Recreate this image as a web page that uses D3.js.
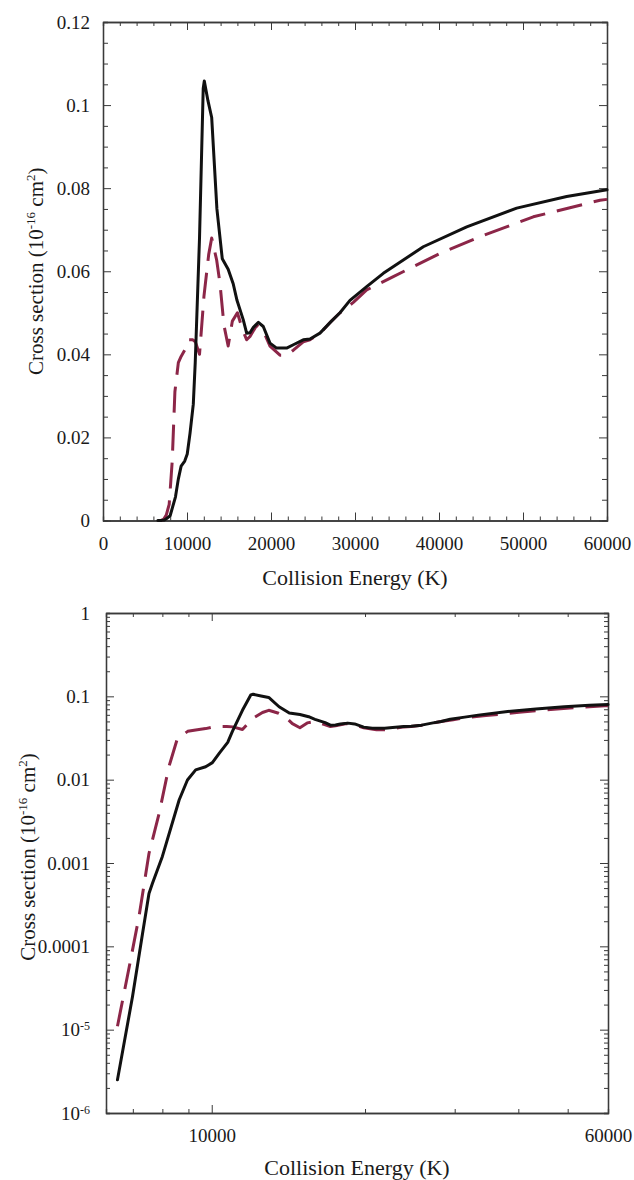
<!DOCTYPE html>
<html>
<head>
<meta charset="utf-8">
<script src="https://cdn.jsdelivr.net/npm/d3@7"></script>
<style>
  html, body { margin: 0; padding: 0; background: #fff; }
  svg { display: block; }
  text { font-family: "Liberation Serif", "Times New Roman", serif; fill: #1a1a1a; }
</style>
</head>
<body>
<svg id="chart" width="634" height="1180"></svg>
<script>
// Cross section vs. collision energy: solid (black) and dashed (maroon) curves
const energySolid = [6530, 6990, 7310, 7530, 7650, 8000, 8630, 8960, 9300, 9730, 10030, 10360, 10750,
  10980, 11490, 11930, 12060, 12500, 12940, 13560, 14200, 14900, 15500, 15950, 16700, 17100, 17500,
  17900, 18500, 19080, 19880, 20670, 21860, 22660, 23840, 24640, 25830, 27200, 28210, 29400, 31390,
  33370, 38130, 43300, 49250, 55200, 60000];
const sigmaSolid = [2.5e-6, 2.5e-5, 1.4e-4, 4.3e-4, 5.7e-4, 1.2e-3, 5.7e-3, 9.9e-3, 0.0131, 0.0143, 0.0160,
  0.021, 0.028, 0.038, 0.068, 0.104, 0.1058, 0.101, 0.097, 0.075, 0.063, 0.0605, 0.057, 0.053, 0.0483,
  0.0451, 0.0452, 0.0465, 0.0477, 0.0467, 0.0427, 0.0415, 0.0415, 0.0423, 0.0435, 0.0437, 0.0451, 0.048,
  0.050, 0.053, 0.0563, 0.0595, 0.0659, 0.0707, 0.0752, 0.078, 0.0796];

const energyDashed = [6530, 6930, 7200, 7530, 7880, 8240, 8560, 8970, 9300, 9730, 10160, 10700, 11000,
  11490, 12020, 12580, 12940, 13530, 13930, 14400, 14900, 15400, 16000, 16600, 17100, 17500, 18300,
  19000, 19880, 21070, 21860, 22660, 23840, 24640, 25830, 27200, 28210, 29800, 31390, 34560, 40120,
  44880, 51230, 59170, 60000];
const sigmaDashed = [1.1e-5, 6.9e-5, 2.3e-4, 1.3e-3, 3.9e-3, 0.0143, 0.031, 0.038, 0.0395, 0.041, 0.0435,
  0.0435, 0.043, 0.040, 0.054, 0.064, 0.068, 0.0627, 0.057, 0.047, 0.042, 0.048, 0.050, 0.046, 0.0435,
  0.0443, 0.047, 0.046, 0.042, 0.0398, 0.0398, 0.041, 0.043, 0.0435, 0.045, 0.048, 0.050, 0.0525,
  0.0555, 0.0587, 0.0643, 0.0683, 0.0731, 0.0771, 0.0773];

// Axis ticks
const linXTicks = [0, 10000, 20000, 30000, 40000, 50000, 60000];
const linYTicks = [0, 0.02, 0.04, 0.06, 0.08, 0.1, 0.12];
const linYLabels = ["0", "0.02", "0.04", "0.06", "0.08", "0.1", "0.12"];
const logXMajor = [10000, 60000];
const logXMajorLabels = ["10000", "60000"];
const logXMinor = [7000, 8000, 9000, 20000, 30000, 40000, 50000];
const logYTicks = [1, 0.1, 0.01, 0.001, 0.0001, 1e-5, 1e-6];
const logYBase = ["1", "0.1", "0.01", "0.001", "0.0001", "10", "10"];
const logYExp = ["", "", "", "", "", "-5", "-6"];

const xTitle = "Collision Energy (K)";

const svg = d3.select("#chart");
const solidColor = "#111";
const dashedColor = "#8c2648";

function seriesOf(xs, ys) { return xs.map((x, i) => [x, ys[i]]); }
const solidPts = seriesOf(energySolid, sigmaSolid);
const dashedPts = seriesOf(energyDashed, sigmaDashed);

function yTitle(g, x, y) {
  const t = g.append("text")
    .attr("transform", `translate(${x},${y}) rotate(-90)`)
    .attr("text-anchor", "middle")
    .style("font-size", "21px");
  t.append("tspan").text("Cross section (10");
  t.append("tspan").attr("dy", -8).style("font-size", "13px").text("-16");
  t.append("tspan").attr("dy", 8).text(" cm");
  t.append("tspan").attr("dy", -8).style("font-size", "13px").text("2");
  t.append("tspan").attr("dy", 8).text(")");
}

function styleAxis(g) {
  g.select(".domain").attr("stroke", "#3a3a3a").attr("stroke-width", 1.3);
  g.selectAll(".tick line").attr("stroke", "#3a3a3a").attr("stroke-width", 1);
  g.selectAll(".tick text").style("font-size", "19px").attr("fill", "#1a1a1a")
    .style("font-family", "'Liberation Serif', serif");
}

function drawCurves(g, x, y) {
  const line = d3.line().x(d => x(d[0])).y(d => y(d[1]));
  g.append("path").datum(dashedPts).attr("d", line)
    .attr("fill", "none").attr("stroke", dashedColor).attr("stroke-width", 3)
    .attr("stroke-dasharray", "26,12").attr("stroke-linejoin", "round");
  g.append("path").datum(solidPts).attr("d", line)
    .attr("fill", "none").attr("stroke", solidColor).attr("stroke-width", 3)
    .attr("stroke-linejoin", "round").attr("stroke-linecap", "round");
}

// ---------- Upper panel: linear axes ----------
{
  const L = 103, R = 607, T = 22, B = 520.5;
  const x = d3.scaleLinear().domain([0, 60000]).range([L, R]);
  const y = d3.scaleLinear().domain([0, 0.12]).range([B, T]);
  const g = svg.append("g");
  const xMinor = d3.range(0, 60001, 2000).filter(v => v % 10000 !== 0);
  const yMinor = d3.range(0, 0.1201, 0.005).filter(v => Math.abs(v / 0.02 - Math.round(v / 0.02)) > 1e-6);

  // minor ticks (all four sides)
  g.append("g").attr("transform", `translate(0,${B})`)
    .call(d3.axisBottom(x).tickValues(xMinor).tickSize(-4).tickFormat("")).call(styleAxis);
  g.append("g").attr("transform", `translate(0,${T})`)
    .call(d3.axisTop(x).tickValues(xMinor).tickSize(-4).tickFormat("")).call(styleAxis);
  g.append("g").attr("transform", `translate(${L},0)`)
    .call(d3.axisLeft(y).tickValues(yMinor).tickSize(-5).tickFormat("")).call(styleAxis);
  g.append("g").attr("transform", `translate(${R},0)`)
    .call(d3.axisRight(y).tickValues(yMinor).tickSize(-5).tickFormat("")).call(styleAxis);

  // major ticks
  g.append("g").attr("transform", `translate(0,${B})`)
    .call(d3.axisBottom(x).tickValues(linXTicks).tickSizeInner(-8).tickSizeOuter(0).tickPadding(16)
      .tickFormat(d3.format("d"))).call(styleAxis);
  g.append("g").attr("transform", `translate(0,${T})`)
    .call(d3.axisTop(x).tickValues(linXTicks).tickSizeInner(-8).tickSizeOuter(0).tickFormat("")).call(styleAxis);
  g.append("g").attr("transform", `translate(${L},0)`)
    .call(d3.axisLeft(y).tickValues(linYTicks).tickSizeInner(-8).tickSizeOuter(0).tickPadding(13)
      .tickFormat((d, i) => linYLabels[i])).call(styleAxis);
  g.append("g").attr("transform", `translate(${R},0)`)
    .call(d3.axisRight(y).tickValues(linYTicks).tickSizeInner(-8).tickSizeOuter(0).tickFormat("")).call(styleAxis);

  drawCurves(g, x, y);

  g.append("text").attr("x", (L + R) / 2).attr("y", 585).attr("text-anchor", "middle")
    .style("font-size", "22px").text(xTitle);
  yTitle(g, 43, (T + B) / 2);
}

// ---------- Lower panel: log-log axes ----------
{
  const L = 106, R = 608, T = 613, B = 1113;
  const x = d3.scaleLog().domain([6200, 60000]).range([L, R]);
  const y = d3.scaleLog().domain([1e-6, 1]).range([B, T]);
  const g = svg.append("g");
  const yMinor = [];
  for (let e = -6; e < 0; e++) for (let m = 2; m <= 9; m++) yMinor.push(m * Math.pow(10, e));

  g.append("g").attr("transform", `translate(0,${B})`)
    .call(d3.axisBottom(x).tickValues(logXMinor).tickSize(-4).tickFormat("")).call(styleAxis);
  g.append("g").attr("transform", `translate(0,${T})`)
    .call(d3.axisTop(x).tickValues(logXMinor).tickSize(-4).tickFormat("")).call(styleAxis);
  g.append("g").attr("transform", `translate(${L},0)`)
    .call(d3.axisLeft(y).tickValues(yMinor).tickSize(-4).tickFormat("")).call(styleAxis);
  g.append("g").attr("transform", `translate(${R},0)`)
    .call(d3.axisRight(y).tickValues(yMinor).tickSize(-4).tickFormat("")).call(styleAxis);

  g.append("g").attr("transform", `translate(0,${B})`)
    .call(d3.axisBottom(x).tickValues(logXMajor).tickSizeInner(-8).tickSizeOuter(0).tickPadding(15.5)
      .tickFormat((d, i) => logXMajorLabels[i])).call(styleAxis);
  g.append("g").attr("transform", `translate(0,${T})`)
    .call(d3.axisTop(x).tickValues(logXMajor).tickSizeInner(-8).tickSizeOuter(0).tickFormat("")).call(styleAxis);
  const yAx = g.append("g").attr("transform", `translate(${L},0)`)
    .call(d3.axisLeft(y).tickValues(logYTicks).tickSizeInner(-8).tickSizeOuter(0).tickPadding(16)
      .tickFormat((d, i) => logYBase[i])).call(styleAxis);
  g.append("g").attr("transform", `translate(${R},0)`)
    .call(d3.axisRight(y).tickValues(logYTicks).tickSizeInner(-8).tickSizeOuter(0).tickFormat("")).call(styleAxis);

  // powers of ten with superscript exponents
  yAx.selectAll(".tick text").each(function (d, i) {
    if (!logYExp[i]) return;
    const t = d3.select(this).text(null);
    t.append("tspan").text(logYBase[i]);
    t.append("tspan").attr("dy", "-0.5em").style("font-size", "12px").text(logYExp[i]);
  });

  drawCurves(g, x, y);

  g.append("text").attr("x", (L + R) / 2).attr("y", 1175).attr("text-anchor", "middle")
    .style("font-size", "22px").text(xTitle);
  yTitle(g, 35, (T + B) / 2 - 6);
}
</script>
</body>
</html>
